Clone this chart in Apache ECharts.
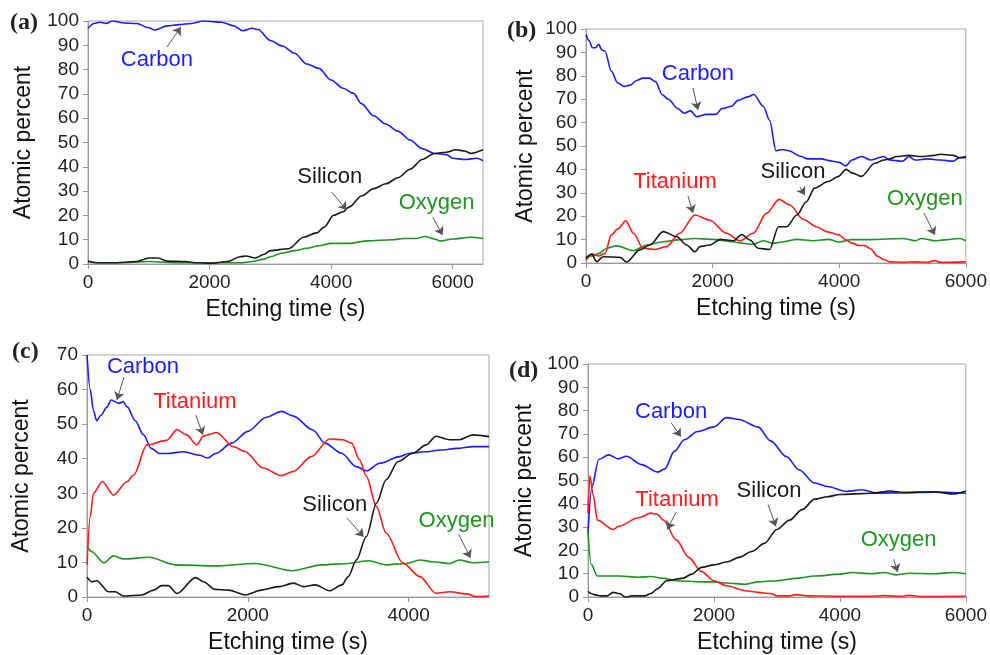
<!DOCTYPE html>
<html>
<head>
<meta charset="utf-8">
<script src="https://cdn.jsdelivr.net/npm/echarts@6/dist/echarts.min.js"></script>
<style>
  html, body { margin: 0; padding: 0; background: #fff; }
  #chart { width: 990px; height: 655px; }
</style>
</head>
<body>
<div id="chart"></div>
<script>
// 各面板的数据: [时间(s), 原子百分比]
var aCarbon = [[0,97],[100,99],[200,99.5],[300,99],[400,100],[600,99.2],[800,99],[1000,97.2],[1100,96.3],[1300,98],[1500,98.5],[1700,99],[1900,100],[2200,99.5],[2400,98],[2550,96],[2700,97],[2800,96.5],[3000,92],[3200,89.7],[3400,86.7],[3600,82.3],[3800,80.5],[4000,75.7],[4200,72.3],[4370,70.2],[4500,66],[4700,61],[4900,57.6],[5100,54.7],[5300,51],[5500,47.5],[5700,45.5],[5900,45],[6000,43.5],[6200,43],[6400,43.5],[6500,42.5]];
var aSilicon = [[0,1],[200,0.5],[400,0.5],[800,1],[1000,2.5],[1150,2.5],[1300,1.2],[1600,1],[1800,0.5],[2000,0.3],[2300,1],[2500,3],[2600,3.3],[2750,2.5],[2900,4],[3000,5.5],[3300,6.3],[3550,11],[3760,12.8],[3890,15.2],[4040,20],[4200,21.5],[4300,23.5],[4500,28],[4700,31],[4900,33],[5100,35.5],[5300,39],[5500,43],[5700,45.5],[5900,46],[6050,47],[6200,46.5],[6300,45.5],[6500,47]];
var aOxygen = [[0,1.5],[100,0.5],[500,0.5],[1000,1],[1500,0.5],[2000,0.5],[2500,0.5],[2700,1],[2900,2],[3000,3],[3200,4.5],[3400,5.5],[3600,6.5],[3800,7.5],[4000,8.5],[4300,8.5],[4600,9.5],[5000,10],[5200,10.5],[5400,10.5],[5550,11.3],[5700,10.3],[5800,9.5],[6000,10.3],[6300,11],[6500,10.5]];

var bCarbon = [[0,97.5],[50,95],[100,92],[150,92],[200,93.5],[250,91],[300,90.5],[400,82],[500,77],[600,75.5],[700,76],[800,78],[900,79],[1000,79],[1100,77.5],[1200,72],[1300,70],[1450,66],[1550,64],[1650,65],[1750,62.5],[1900,63.5],[2050,63.5],[2150,66],[2300,67],[2400,69.5],[2550,71],[2650,72],[2800,67],[2900,61],[3000,48],[3100,48.5],[3200,48],[3400,45.5],[3500,44.5],[3700,44.5],[3900,43.5],[4000,43],[4100,41.5],[4200,44],[4350,45.5],[4500,44],[4700,45.5],[4800,44],[5000,43.5],[5100,45.5],[5200,44],[5400,44.5],[5600,44],[5800,43.5],[5900,45],[6000,45]];
var bTitanium = [[0,1.3],[100,3.8],[200,3],[300,4],[400,12],[500,14.5],[630,18],[750,12.7],[900,6.3],[1100,5.8],[1270,7],[1480,12.7],[1720,20.5],[1950,18.4],[2220,12.7],[2430,9.5],[2640,12.7],[2850,21.2],[3050,27.2],[3220,24.8],[3430,18.7],[3640,15.5],[3800,13.4],[4000,12],[4100,10],[4200,8.5],[4300,7.5],[4400,7.5],[4500,6],[4600,3],[4700,1.5],[4800,0.5],[5000,0.3],[5200,0.5],[5400,0.3],[5500,1],[5600,0.3],[6000,0.5]];
var bSilicon = [[0,2],[90,3.8],[170,0.6],[270,2.7],[540,2.4],[640,0.4],[850,5.6],[1010,7.7],[1220,13.4],[1430,11.3],[1590,7.7],[1720,4.8],[1800,7],[1960,7.7],[2120,10.1],[2330,9.5],[2460,12.2],[2590,9.8],[2720,6.3],[2900,5.8],[3040,15.5],[3170,15.5],[3330,20.5],[3480,26.2],[3610,32],[3825,34.8],[3980,36.9],[4110,40],[4200,38.5],[4350,37],[4560,42.6],[4700,44],[4800,44.5],[4900,45.5],[5100,46],[5300,45.5],[5500,46],[5600,46.5],[5800,46],[5900,45],[6000,45.5]];
var bOxygen = [[0,2.7],[100,3],[200,4],[330,6.3],[480,7.3],[750,5.3],[960,7.7],[1220,9.1],[1500,10],[1700,10.5],[2000,10.1],[2330,9.1],[2450,8.5],[2640,8],[2800,9.5],[2960,8.4],[3120,9.1],[3330,10.1],[3590,9.5],[3830,10.1],[4000,9],[4200,10],[4500,10],[5000,10.5],[5200,9.5],[5300,10.5],[5500,9.5],[5700,10],[5900,10.5],[6000,9.5]];

var cCarbon = [[0,70],[40,60],[80,54],[120,51],[170,52.5],[250,55],[300,57],[400,56],[450,56.5],[500,55],[600,51],[700,47],[800,43],[900,41.5],[1000,41.5],[1200,42],[1400,41],[1500,40.2],[1600,41.5],[1800,44.5],[2000,47.9],[2230,52],[2420,53.7],[2560,52.4],[2810,48.3],[2960,44.5],[3165,41.6],[3350,37.7],[3475,36.5],[3640,38.7],[3890,40.6],[4000,41.5],[4200,42],[4400,42.5],[4600,43],[4800,43.5],[5000,43.5]];
var cTitanium = [[0,9.3],[40,23.3],[80,30],[190,33.4],[330,29.5],[500,33.4],[580,35.3],[745,44],[990,45.3],[1120,48.4],[1240,46.9],[1365,44],[1450,46.6],[1610,47.6],[1820,43.5],[1965,42.1],[2190,37.3],[2420,35.1],[2565,36.3],[2790,40.6],[3020,45.7],[3185,45.5],[3290,44.5],[3390,39.7],[3475,34.9],[3600,26.2],[3720,18.5],[3930,9.8],[4140,5.9],[4340,1.1],[4510,1.5],[4720,0.9],[4840,0.1],[5000,0.3]];
var cSilicon = [[0,5.7],[60,4.4],[120,4.7],[270,1.5],[350,1.5],[455,0.3],[680,0.6],[830,2],[930,3.3],[1010,3.3],[1120,1],[1350,5.6],[1450,4.4],[1590,2.2],[1760,2],[1970,0.6],[2170,2],[2380,3],[2570,4],[2690,3],[2840,3.5],[3020,1.8],[3170,3.5],[3250,5.9],[3350,10.7],[3475,17.5],[3600,27.1],[3720,33.9],[3870,39.2],[4050,41.6],[4220,44],[4340,46.5],[4510,45.5],[4630,45.5],[4800,46.9],[5000,46.4]];
var cOxygen = [[0,14.6],[60,13.1],[210,9.9],[330,11.9],[455,11],[770,11.5],[1100,9.3],[1590,9],[2090,9.7],[2550,7.6],[2920,9.3],[3250,9.7],[3500,10.5],[3720,9.3],[3970,9.7],[4140,10.7],[4300,10.2],[4510,9.7],[4630,10.7],[4800,9.9],[5000,10.2]];

var dCarbon = [[0,27.6],[60,47],[170,59],[330,61],[480,59.3],[610,60.4],[850,56.8],[1110,53.6],[1220,55],[1370,62.5],[1530,67.5],[1740,71],[2000,73],[2200,77],[2400,76.2],[2700,73],[2900,67],[3150,60.3],[3350,54.6],[3600,48.9],[3800,47.4],[4100,45.3],[4350,46],[4600,44.6],[5000,44.8],[5500,45],[6000,44.5]];
var dTitanium = [[0,36],[30,52],[80,44],[150,33],[400,29],[500,30.5],[800,34],[1000,36],[1100,35.5],[1200,33],[1400,24.5],[1600,17],[1800,11],[2000,7],[2200,4.8],[2500,2.7],[2700,2],[2900,1.5],[3000,0.5],[3200,0.5],[3300,1],[3500,0.5],[4000,0.3],[4500,0.3],[4700,0.6],[5000,0.3],[5100,0.7],[5300,0.2],[6000,0.3]];
var dSilicon = [[0,2.5],[50,1.5],[100,1],[200,0.5],[300,0.5],[400,2],[500,1.5],[600,0],[700,0.5],[900,0.5],[1000,1.5],[1100,3.5],[1250,7],[1500,8],[1650,9.8],[1800,12.7],[2000,13.8],[2200,15],[2400,17],[2600,19.5],[2800,23],[3000,29],[3200,33],[3400,37.5],[3600,42],[3800,43],[4000,44],[4500,44.5],[4800,45.5],[5000,44.8],[5500,45.2],[5800,44.2],[6000,45.5]];
var dOxygen = [[0,28],[50,14],[150,9],[300,9],[500,9],[800,8.5],[1000,8.8],[1200,8],[1400,7],[1800,6.5],[2000,6.5],[2200,6],[2500,5.5],[2700,6.5],[3000,7],[3300,8],[3600,9],[4000,9.8],[4200,10.5],[4500,10],[4700,10.5],[4900,9.5],[5100,10.2],[5500,10],[5800,10.5],[6000,10]];

// 标注: 文字位置和箭头 (数据坐标)
var aNotes = {Carbon: [[1134,84],[1299,89.3],[1529,97.5]], Silicon: [[3978,35.8],[4011,29.6],[4258,22.2]], Oxygen: [[5737,25.1],[5672,19.3],[5836,11.9]]};
var bNotes = {Carbon: [[1768,80.8],[1690,74.8],[1768,65.4]], Titanium: [[1405,34.6],[1611,28.6],[1690,21.4]], Silicon: [[3269,38.9],[3379,32.5],[3458,29]], Oxygen: [[5353,27.4],[5337,21.4],[5511,12]]};
var cNotes = {Carbon: [[696,66.5],[460,63.6],[373,57]], Titanium: [[1342,56.4],[1354,52.6],[1441,46.9]], Silicon: [[3081,26.6],[3230,22.9],[3441,17.4]], Oxygen: [[4596,22],[4621,18.2],[4770,11.3]]};
var dNotes = {Carbon: [[1319,79.5],[1319,74.8],[1476,68.8]], Titanium: [[1414,41.5],[1398,36.3],[1257,29]], Silicon: [[2874,45.7],[2859,39.7],[2984,30.3]], Oxygen: [[4932,24.4],[4853,16.2],[4916,10.7]]};

var panelLabels = ['(a)', '(b)', '(c)', '(d)'];
var xMax = [6500, 6000, 5000, 6000];
var yMax = [100, 100, 70, 100];

var COLORS = {Carbon: '#1c1cff', Titanium: '#ff1c1c', Silicon: '#1a1a1a', Oxygen: '#1f941f'};
var FONT = 'Liberation Sans';

var chartDom = document.getElementById('chart');
var myChart = echarts.init(chartDom);

var grids = [
    {left: 88, top: 21, width: 395, height: 243},
    {left: 586, top: 29, width: 380, height: 234},
    {left: 87, top: 355, width: 402, height: 242},
    {left: 588, top: 364, width: 382, height: 234}
];
var titlePos = [[10, 11], [507, 19], [12, 340], [509, 359]];
var yNameGap = [53, 49, 54, 52];

function makeSeries(panel, name, data, note) {
    var color = COLORS[name];
    return {
        type: 'line',
        name: name,
        xAxisIndex: panel,
        yAxisIndex: panel,
        data: data,
        showSymbol: false,
        smooth: 0.3,
        smoothMonotone: 'x',
        lineStyle: {width: 1.6, color: color},
        itemStyle: {color: color},
        markPoint: {
            silent: true,
            symbol: 'rect',
            symbolSize: 1,
            itemStyle: {color: 'rgba(0,0,0,0)'},
            label: {show: true, position: 'inside', formatter: name, color: color, fontSize: 22, fontFamily: FONT},
            data: [{coord: note[0]}]
        },
        markLine: {
            silent: true,
            symbol: ['none', 'arrow'],
            symbolSize: 8,
            itemStyle: {color: '#555'},
            lineStyle: {color: '#555', width: 1, type: 'solid'},
            label: {show: false},
            data: [[{coord: note[1]}, {coord: note[2]}]]
        }
    };
}

var series = [
    makeSeries(0, 'Carbon', aCarbon, aNotes.Carbon),
    makeSeries(0, 'Oxygen', aOxygen, aNotes.Oxygen),
    makeSeries(0, 'Silicon', aSilicon, aNotes.Silicon),
    makeSeries(1, 'Carbon', bCarbon, bNotes.Carbon),
    makeSeries(1, 'Oxygen', bOxygen, bNotes.Oxygen),
    makeSeries(1, 'Titanium', bTitanium, bNotes.Titanium),
    makeSeries(1, 'Silicon', bSilicon, bNotes.Silicon),
    makeSeries(2, 'Carbon', cCarbon, cNotes.Carbon),
    makeSeries(2, 'Oxygen', cOxygen, cNotes.Oxygen),
    makeSeries(2, 'Titanium', cTitanium, cNotes.Titanium),
    makeSeries(2, 'Silicon', cSilicon, cNotes.Silicon),
    makeSeries(3, 'Carbon', dCarbon, dNotes.Carbon),
    makeSeries(3, 'Oxygen', dOxygen, dNotes.Oxygen),
    makeSeries(3, 'Titanium', dTitanium, dNotes.Titanium),
    makeSeries(3, 'Silicon', dSilicon, dNotes.Silicon)
];

var xAxes = [], yAxes = [], titles = [];
for (var i = 0; i < 4; i++) {
    grids[i].show = true;
    grids[i].borderColor = '#a8a8a8';
    grids[i].borderWidth = 1;
    xAxes.push({
        type: 'value', gridIndex: i, min: 0, max: xMax[i], interval: 2000,
        name: 'Etching time (s)', nameLocation: 'middle', nameGap: 34,
        nameTextStyle: {fontSize: 23, color: '#111', fontFamily: FONT},
        axisLine: {show: true, lineStyle: {color: '#999', width: 1}},
        axisTick: {show: true, length: 5, lineStyle: {color: '#999'}},
        axisLabel: {
            fontSize: 19, color: '#222', margin: 9, fontFamily: FONT,
            showMaxLabel: xMax[i] % 2000 === 0,
            formatter: function (v) { return String(v); }
        },
        splitLine: {show: false}
    });
    yAxes.push({
        type: 'value', gridIndex: i, min: 0, max: yMax[i], interval: 10,
        name: 'Atomic percent', nameLocation: 'middle', nameRotate: 90, nameGap: yNameGap[i],
        nameTextStyle: {fontSize: 23, color: '#111', fontFamily: FONT},
        axisLine: {show: true, lineStyle: {color: '#999', width: 1}},
        axisTick: {show: true, length: 5, lineStyle: {color: '#999'}},
        axisLabel: {fontSize: 19, color: '#222', margin: 9, fontFamily: FONT},
        splitLine: {show: false}
    });
    titles.push({
        text: panelLabels[i], left: titlePos[i][0], top: titlePos[i][1], padding: 0,
        textStyle: {fontFamily: 'Liberation Serif', fontWeight: 'bold', fontSize: 24, color: '#222'}
    });
}

var option = {
    backgroundColor: '#fff',
    animation: false,
    title: titles,
    grid: grids,
    xAxis: xAxes,
    yAxis: yAxes,
    series: series
};

option && myChart.setOption(option);
</script>
</body>
</html>
